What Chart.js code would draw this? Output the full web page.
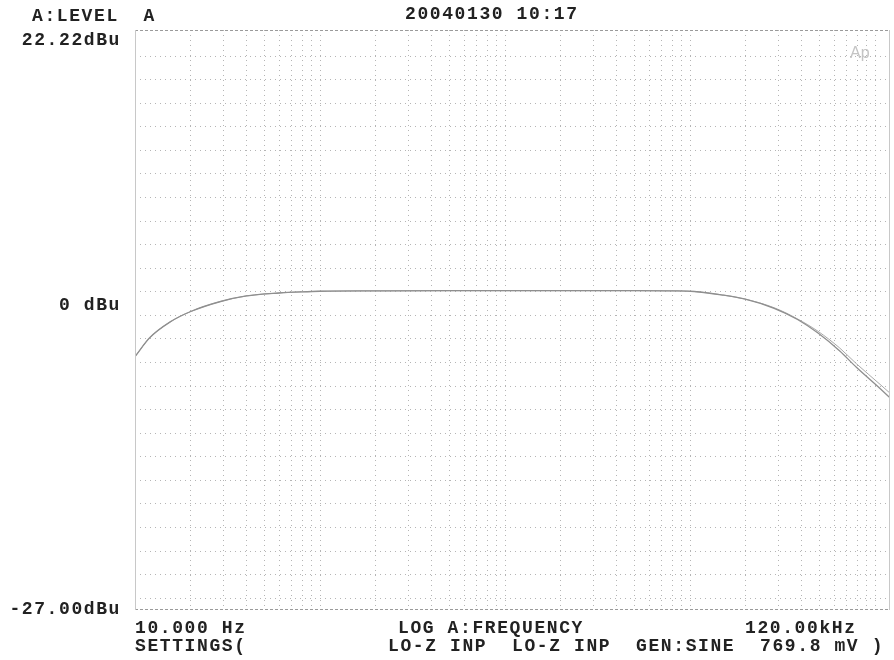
<!DOCTYPE html>
<html>
<head>
<meta charset="utf-8">
<script src="https://cdn.jsdelivr.net/npm/chart.js@4"></script>
<style>
  html, body { margin: 0; padding: 0; background: #fff; }
  #wrap { width: 894px; height: 660px; position: relative; }
</style>
</head>
<body>
<div id="wrap"><canvas id="apChart"></canvas></div>
<script>
// Frequency sweep (Hz)
const freqHz = [10, 12, 15.5, 20, 29, 40, 60, 80, 100, 200, 500, 1000, 2000, 5000, 8000, 10500, 14700, 19600, 28400, 38000, 49000, 64000, 79000, 106000, 120000];
// Level, dBu (channel A / channel B)
const levelA = [-5.5, -3.9, -2.55, -1.67, -0.82, -0.35, -0.1, 0.0, 0.05, 0.08, 0.1, 0.1, 0.1, 0.1, 0.08, 0.03, -0.25, -0.6, -1.4, -2.35, -3.5, -5.0, -6.4, -8.2, -9.0];
const levelB = [-5.5, -3.9, -2.55, -1.67, -0.82, -0.35, -0.1, 0.0, 0.05, 0.08, 0.1, 0.1, 0.1, 0.1, 0.08, 0.03, -0.25, -0.6, -1.35, -2.3, -3.35, -4.75, -6.1, -7.85, -8.6];

const yMin = -27.00, yMax = 22.22, yStep = 2;
const xMin = 10, xMax = 120000;

const headerLeft = 'A:LEVEL  A';
const headerDate = '20040130 10:17';
const yTopLabel = '22.22dBu';
const yMidLabel = '0 dBu';
const yBottomLabel = '-27.00dBu';
const xLeftLabel = '10.000 Hz';
const xTitle = 'LOG A:FREQUENCY';
const xRightLabel = '120.00kHz';
const settingsLeft = 'SETTINGS(';
const settingsRight = 'LO-Z INP  LO-Z INP  GEN:SINE  769.8 mV )';

function toPoints(ys) {
  return freqHz.map((f, i) => ({ x: f, y: ys[i] }));
}

// 1..9 x 10^n inside the sweep range
function logGridTicks(axis) {
  const t = [];
  for (let d = 1; d <= 100000; d *= 10) {
    for (let m = 1; m <= 9; m++) {
      const v = m * d;
      if (v >= xMin && v <= xMax) t.push({ value: v });
    }
  }
  axis.ticks = t;
}

function linGridTicks(axis) {
  const t = [];
  for (let v = -26; v <= 20; v += yStep) t.push({ value: v });
  axis.ticks = t;
}

// text and frame in the Audio Precision style
const apText = {
  id: 'apText',
  afterDraw(chart) {
    const ctx = chart.ctx;
    const a = chart.chartArea;
    ctx.save();
    // frame
    ctx.strokeStyle = '#9a9a9a';
    ctx.lineWidth = 1;
    ctx.setLineDash([3, 2]);
    ctx.beginPath();
    ctx.moveTo(a.left, a.top + 0.5); ctx.lineTo(a.right, a.top + 0.5);
    ctx.moveTo(a.left, a.bottom - 0.5); ctx.lineTo(a.right, a.bottom - 0.5);
    ctx.stroke();
    ctx.setLineDash([]);
    ctx.strokeStyle = '#c8c8c8';
    ctx.beginPath();
    ctx.moveTo(a.left + 0.5, a.top); ctx.lineTo(a.left + 0.5, a.bottom);
    ctx.moveTo(a.right - 0.5, a.top); ctx.lineTo(a.right - 0.5, a.bottom);
    ctx.stroke();

    ctx.fillStyle = '#222';
    ctx.font = 'bold 18px "Liberation Mono", "DejaVu Sans Mono", monospace';
    ctx.letterSpacing = '1.6px';
    ctx.textBaseline = 'middle';
    ctx.textAlign = 'left';
    const cw = 12.4;
    const right = (s, x, y) => ctx.fillText(s, x - s.length * cw, y);
    ctx.fillText(headerLeft, 32, 16);
    ctx.fillText(headerDate, 405, 14);
    right(yTopLabel, 121, 40);
    right(yMidLabel, 121, 305);
    right(yBottomLabel, 121, 609);
    ctx.fillText(xLeftLabel, 135, 628);
    ctx.fillText(xTitle, 398, 628);
    ctx.fillText(xRightLabel, 745, 628);
    ctx.fillText(settingsLeft, 135, 646);
    ctx.fillText(settingsRight, 388, 646);

    // Ap mark
    ctx.letterSpacing = '0px';
    ctx.font = '16px "Liberation Sans", Arial, sans-serif';
    ctx.fillStyle = '#c4c4c4';
    ctx.fillText('Ap', 850, 54);
    ctx.restore();
  }
};

new Chart(document.getElementById('apChart').getContext('2d'), {
  type: 'line',
  data: {
    datasets: [
      {
        label: 'Level A',
        data: toPoints(levelA),
        borderColor: '#8f8f8f',
        borderWidth: 1.3,
        pointRadius: 0,
        cubicInterpolationMode: 'monotone',
        fill: false
      },
      {
        label: 'Level B',
        data: toPoints(levelB),
        borderColor: '#a8a8a8',
        borderWidth: 1,
        pointRadius: 0,
        cubicInterpolationMode: 'monotone',
        fill: false
      }
    ]
  },
  options: {
    responsive: true,
    maintainAspectRatio: false,
    animation: false,
    layout: { padding: { left: 135, right: 4, top: 30, bottom: 50 } },
    plugins: {
      legend: { display: false },
      tooltip: { enabled: false }
    },
    scales: {
      x: {
        type: 'logarithmic',
        min: xMin,
        max: xMax,
        afterBuildTicks: logGridTicks,
        ticks: { display: false },
        grid: { color: '#b5b5b5', lineWidth: 1, drawTicks: false },
        border: { display: false, dash: [1, 4] }
      },
      y: {
        type: 'linear',
        min: yMin,
        max: yMax,
        afterBuildTicks: linGridTicks,
        ticks: { display: false },
        grid: { color: '#b5b5b5', lineWidth: 1, drawTicks: false },
        border: { display: false, dash: [1, 4] }
      }
    }
  },
  plugins: [apText]
});
</script>
</body>
</html>
